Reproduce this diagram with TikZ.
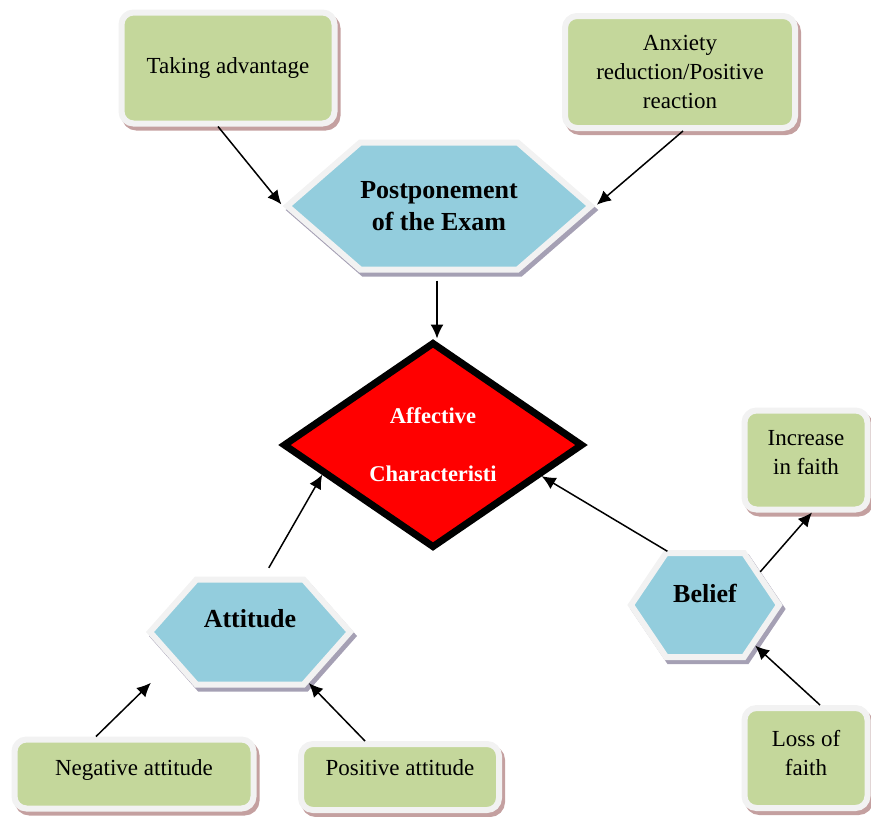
\documentclass[tikz,border=0pt]{standalone}
\usepackage{fontspec}
\setmainfont{Liberation Serif}
\usetikzlibrary{shapes.geometric,shapes.symbols,shadows,arrows.meta}
\definecolor{boxgreen}{RGB}{196,215,155}
\definecolor{hexblue}{RGB}{147,205,221}
\definecolor{rimwhite}{RGB}{242,242,242}
\definecolor{boxshade}{RGB}{196,160,160}
\definecolor{hexshade}{RGB}{165,160,180}
\definecolor{diared}{RGB}{255,0,0}

\begin{document}
\begin{tikzpicture}
[every node/.style={inner sep=0pt, align=center},
 greenbox/.style={rounded corners=12pt, fill=boxgreen, draw=rimwhite, line width=6pt,
   drop shadow={shadow xshift=3pt, shadow yshift=-4pt, fill=boxshade, draw=boxshade, line width=6pt, opacity=1},
   font=\fontsize{23}{29}\selectfont},
 hexbox/.style={signal, signal to=west and east, fill=hexblue, draw=rimwhite, line width=6pt,
   drop shadow={shadow xshift=3pt, shadow yshift=-4pt, fill=hexshade, draw=hexshade, line width=6pt, opacity=1},
   font=\bfseries\fontsize{26}{32}\selectfont},
 link/.style={line width=1.5pt, -{Latex[length=14pt,width=13pt]}}]
\useasboundingbox (0pt,0pt) rectangle (871pt,-817pt);
\node (take) [greenbox, minimum width=213pt, minimum height=111pt] at (228pt, -68pt) {Taking advantage};
\node (anx) [greenbox, minimum width=230pt, minimum height=112pt] at (680pt, -72pt) {Anxiety\\reduction/Positive\\reaction};
\node (post) [hexbox, minimum width=292pt, minimum height=127pt, signal pointer angle=82] at (439pt, -206pt) {Postponement\\of the Exam};
\node (aff) [diamond, aspect=1.5, minimum width=300pt, minimum height=206pt, fill=diared, draw=black, line width=7pt,
  text=white, font=\bfseries\fontsize{22.5}{27}\selectfont] at (433pt, -445pt) {Affective\\[31pt]Characteristi};
\node (att) [hexbox, minimum width=200pt, minimum height=105pt, signal pointer angle=97, text depth=28pt] at (250pt, -632pt) {Attitude};
\node (bel) [hexbox, minimum width=148pt, minimum height=104pt, signal pointer angle=112, text depth=24pt] at (705pt, -605pt) {Belief};
\node (inc) [greenbox, minimum width=123pt, minimum height=99pt, text depth=16pt] at (806pt, -460pt) {Increase\\in faith};
\node (loss) [greenbox, minimum width=123pt, minimum height=100pt, text depth=10pt] at (806pt, -758pt) {Loss of\\faith};
\node (neg) [greenbox, minimum width=239pt, minimum height=69pt, text depth=12pt] at (134pt, -774pt) {Negative attitude};
\node (pos) [greenbox, minimum width=198pt, minimum height=66pt, text depth=18pt] at (400pt, -777pt) {Positive attitude};
\draw [link, shorten >=2pt] ([xshift=-10pt]take.south) -- (post.west);
\draw [link, shorten >=2pt] ([xshift=3pt]anx.south) -- (post.east);
\draw [link, shorten <=8pt] ([xshift=-2pt]post.south) -- ([xshift=-2pt]post.south |- aff.north);
\draw [link, shorten <=10pt] (att.76) -- (aff.195);
\draw [link] (bel.125) -- (aff.344);
\draw [link] (bel.31) -- ([xshift=6pt]inc.south);
\draw [link] ([xshift=14pt]loss.north) -- (bel.321);
\draw [link, shorten >=30pt] ([xshift=-38pt]neg.north) -- (att.201);
\draw [link] ([xshift=-35pt]pos.north) -- (att.319);
\end{tikzpicture}
\end{document}
